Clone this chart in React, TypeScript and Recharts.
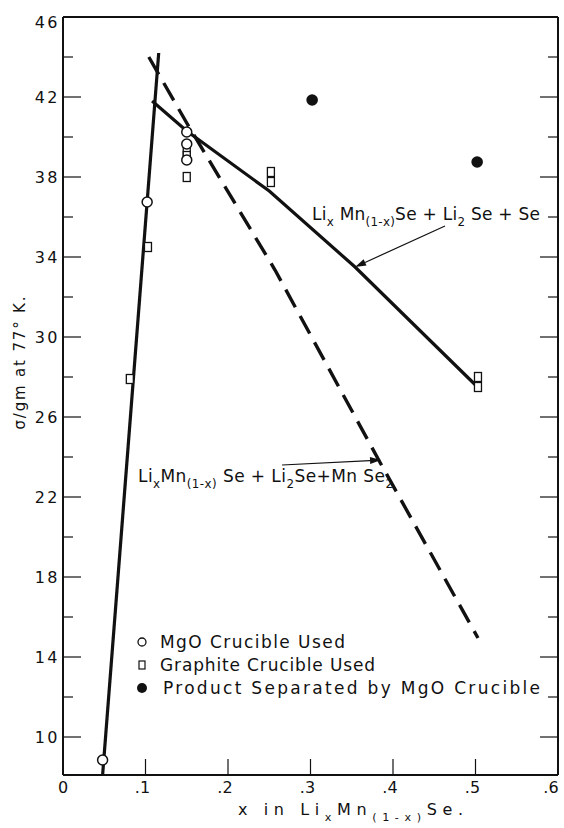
import React from 'react';
import { ComposedChart, Scatter, XAxis, YAxis, ReferenceLine, ReferenceDot, Legend } from 'recharts';

// sample points
const mgoX = [0.048, 0.102, 0.15, 0.15, 0.15];
const mgoY = [8.85, 36.75, 40.25, 39.65, 38.85];

const graphiteX = [0.081, 0.103, 0.15, 0.15, 0.15, 0.252, 0.252, 0.503, 0.503];
const graphiteY = [27.9, 34.5, 39.3, 39.05, 38.0, 38.25, 37.75, 28.0, 27.5];

const productX = [0.302, 0.502];
const productY = [41.85, 38.75];

// drawn curves
const riseX = [0.048, 0.116];
const riseY = [8.1, 44.2];

const seX = [0.108, 0.15, 0.25, 0.354, 0.5];
const seY = [41.8, 40.3, 37.3, 33.5, 27.6];

const mnse2X = [0.104, 0.15, 0.257, 0.384, 0.503];
const mnse2Y = [44.0, 40.7, 33.35, 23.75, 14.95];

const xTicks = [0, 0.1, 0.2, 0.3, 0.4, 0.5, 0.6];
const yTicks = [10, 12, 14, 16, 18, 20, 22, 24, 26, 28, 30, 32, 34, 36, 38, 40, 42, 44, 46];

const INK = '#111';
const FONT = '"DejaVu Sans", sans-serif';

const pts = (xs: number[], ys: number[]) => xs.map((x, i) => ({ x, y: ys[i] }));

const isMajor = (v: number) => (v - 10) % 4 === 0;

const LeftTick = (p: any) => {
  const v = p.payload.value;
  const major = isMajor(v);
  return (
    <g>
      <line x1={p.x} x2={p.x + (major ? 18 : 10)} y1={p.y} y2={p.y} stroke={INK} strokeWidth={1.2} />
      {major && (
        <text x={p.x - 3} y={p.y + (v === 46 ? 5 : 0)} dy="0.36em" textAnchor="end"
          fontSize={16} letterSpacing={2.5} fill={INK} fontFamily={FONT}>{v}</text>
      )}
    </g>
  );
};

const RightTick = (p: any) => {
  const v = p.payload.value;
  return <line x1={p.x} x2={p.x - (isMajor(v) ? 18 : 10)} y1={p.y} y2={p.y} stroke={INK} strokeWidth={1.2} />;
};

const BottomTick = (p: any) => {
  const v = p.payload.value;
  const inner = v > 0 && v < 0.6;
  const label = v === 0 ? '0' : '.' + Math.round(v * 10);
  return (
    <g>
      {inner && <line x1={p.x} x2={p.x} y1={p.y} y2={p.y - 16} stroke={INK} strokeWidth={1.2} />}
      <text x={v === 0 ? p.x : p.x - 3} y={p.y + 18} textAnchor="middle"
        fontSize={16} fill={INK} fontFamily={FONT}>{label}</text>
    </g>
  );
};

const TopTick = (p: any) => {
  const v = p.payload.value;
  if (v <= 0 || v >= 0.6) return <g />;
  return <line x1={p.x} x2={p.x} y1={p.y} y2={p.y + 15} stroke={INK} strokeWidth={1.2} />;
};

type Part = { t: string; sub?: boolean };

// text with subscripts, stretched to a given width
const SubText = ({ x, y, parts, size, width }: { x: number; y: number; parts: Part[]; size: number; width: number }) => {
  let down = false;
  return (
    <text x={x} y={y} fontSize={size} fill={INK} fontFamily={FONT} textLength={width} lengthAdjust="spacing">
      {parts.map((p, i) => {
        let dy = 0;
        if (p.sub && !down) { dy = 6; down = true; }
        else if (!p.sub && down) { dy = -6; down = false; }
        return (
          <tspan key={i} dy={dy} fontSize={p.sub ? size * 0.7 : size}>{p.t}</tspan>
        );
      })}
    </text>
  );
};

const note1: Part[] = [
  { t: 'Li' }, { t: 'x', sub: true }, { t: ' Mn' }, { t: '(1-x)', sub: true },
  { t: 'Se + Li' }, { t: '2', sub: true }, { t: ' Se + Se' },
];
const note2: Part[] = [
  { t: 'Li' }, { t: 'x', sub: true }, { t: 'Mn' }, { t: '(1-x)', sub: true },
  { t: ' Se + Li' }, { t: '2', sub: true }, { t: 'Se+Mn Se' }, { t: '2', sub: true },
];
const xLabel: Part[] = [
  { t: 'x in Li' }, { t: 'x', sub: true }, { t: 'Mn' }, { t: '(1-x)', sub: true }, { t: 'Se.' },
];

const Arrow = (p: any) => {
  const { x1, y1, x2, y2 } = p;
  const a = Math.atan2(y2 - y1, x2 - x1);
  const L = 11, W = 3.5;
  const bx = x2 - L * Math.cos(a), by = y2 - L * Math.sin(a);
  const head = `${x2},${y2} ${bx - W * Math.sin(a)},${by + W * Math.cos(a)} ${bx + W * Math.sin(a)},${by - W * Math.cos(a)}`;
  return (
    <g>
      <line x1={x1} y1={y1} x2={bx} y2={by} stroke={INK} strokeWidth={1.2} />
      <polygon points={head} fill={INK} />
    </g>
  );
};

const OpenCircle = (p: any) => <circle cx={p.cx} cy={p.cy} r={5} fill="#fff" stroke={INK} strokeWidth={1.5} />;
const OpenSquare = (p: any) => <rect x={p.cx - 3.5} y={p.cy - 4.5} width={7} height={9} fill="#fff" stroke={INK} strokeWidth={1.3} />;
const FilledDot = (p: any) => <circle cx={p.cx} cy={p.cy} r={5.8} fill={INK} />;
const NoMark = () => <g />;

const LegendBox = () => (
  <svg width={430} height={72} style={{ display: 'block' }}>
    <circle cx={12} cy={12} r={4} fill="#fff" stroke={INK} strokeWidth={1.3} />
    <text x={30} y={18} fontSize={17} fill={INK} fontFamily={FONT} textLength={185} lengthAdjust="spacing">MgO Crucible Used</text>
    <rect x={9} y={31} width={6} height={8} fill="#fff" stroke={INK} strokeWidth={1.2} />
    <text x={30} y={41} fontSize={17} fill={INK} fontFamily={FONT} textLength={215} lengthAdjust="spacing">Graphite Crucible Used</text>
    <circle cx={12} cy={58} r={5} fill={INK} />
    <text x={33} y={64} fontSize={17} fill={INK} fontFamily={FONT} textLength={377} lengthAdjust="spacing">Product Separated by MgO Crucible</text>
  </svg>
);

const YLabel = () => (
  <text transform="translate(25,363) rotate(-90)" textAnchor="middle" fontSize={15} fill={INK}
    fontFamily={FONT} textLength={133} lengthAdjust="spacing">σ/gm at 77° K.</text>
);

const XLabel = () => <SubText x={238} y={815} parts={xLabel} size={16} width={225} />;

const App: React.FC = () => {
  const axisLine = { stroke: INK, strokeWidth: 2 };
  return (
    <div style={{ position: 'absolute', left: 0, top: 0, width: 564, height: 828, background: '#fff' }}>
      <ComposedChart width={564} height={828} margin={{ top: 16, right: 5, bottom: 13, left: 3 }}>
        <XAxis xAxisId={0} dataKey="x" type="number" domain={[0, 0.6]} ticks={xTicks} allowDataOverflow
          height={40} tickSize={0} tickMargin={0} tickLine={false} axisLine={axisLine} tick={BottomTick}
          label={XLabel} />
        <XAxis xAxisId="top" orientation="top" type="number" domain={[0, 0.6]} ticks={xTicks} allowDataOverflow
          height={1} tickSize={0} tickMargin={0} tickLine={false} axisLine={axisLine} tick={TopTick} />
        <YAxis yAxisId={0} dataKey="y" type="number" domain={[8.1, 46]} ticks={yTicks} allowDataOverflow
          width={60} tickSize={0} tickMargin={0} tickLine={false} axisLine={axisLine} tick={LeftTick}
          interval={0} label={YLabel} />
        <YAxis yAxisId="right" orientation="right" type="number" domain={[8.1, 46]} ticks={yTicks} allowDataOverflow
          width={1} tickSize={0} tickMargin={0} tickLine={false} axisLine={axisLine} tick={RightTick} interval={0} />

        <Scatter data={pts(riseX, riseY)} line={{ stroke: INK, strokeWidth: 3.2 }} lineType="joint"
          shape={NoMark} legendType="none" isAnimationActive={false} />
        <Scatter data={pts(seX, seY)} line={{ stroke: INK, strokeWidth: 3.2 }} lineType="joint"
          shape={NoMark} legendType="none" isAnimationActive={false} />
        <Scatter data={pts(mnse2X, mnse2Y)} line={{ stroke: INK, strokeWidth: 3.4, strokeDasharray: '20 10' }}
          lineType="joint" shape={NoMark} legendType="none" isAnimationActive={false} />

        <ReferenceLine segment={[{ x: 0.463, y: 35.55 }, { x: 0.354, y: 33.5 }]} shape={Arrow} />
        <ReferenceLine segment={[{ x: 0.2655, y: 23.6 }, { x: 0.3855, y: 23.85 }]} shape={Arrow} />
        <ReferenceDot x={0.3018} y={35.85} r={0}
          shape={(p: any) => <SubText x={p.cx} y={p.cy} parts={note1} size={17} width={228} />} />
        <ReferenceDot x={0.0909} y={22.75} r={0}
          shape={(p: any) => <SubText x={p.cx} y={p.cy} parts={note2} size={17} width={255} />} />

        <Scatter data={pts(graphiteX, graphiteY)} shape={OpenSquare} isAnimationActive={false} />
        <Scatter data={pts(mgoX, mgoY)} shape={OpenCircle} isAnimationActive={false} />
        <Scatter data={pts(productX, productY)} shape={FilledDot} isAnimationActive={false} />

        <Legend layout="vertical" align="center" verticalAlign="middle" content={LegendBox}
          wrapperStyle={{ left: 130, top: 630, width: 430 }} />
      </ComposedChart>
    </div>
  );
};

export default App;
